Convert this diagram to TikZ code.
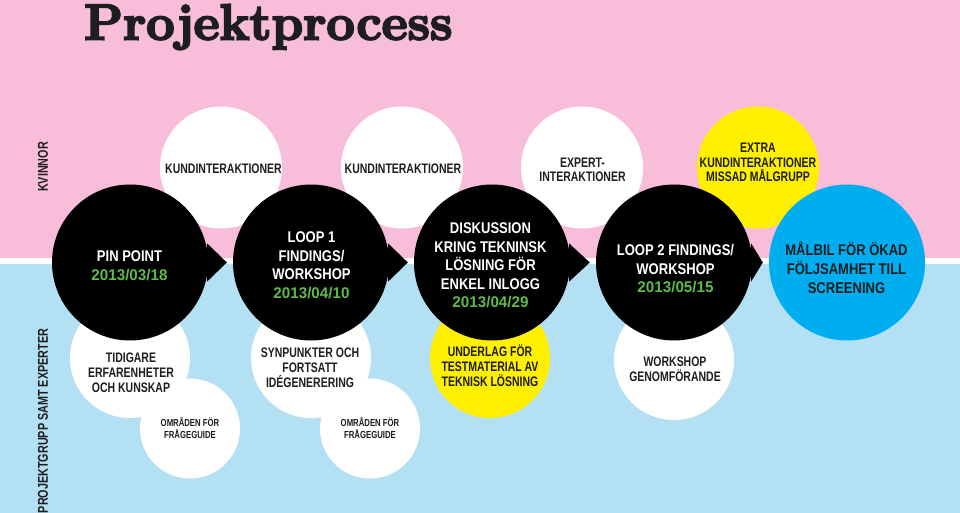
\documentclass[tikz,border=0pt]{standalone}
\usepackage{fontspec}
\newfontfamily\fw[FakeStretch=0.76]{Liberation Sans}
\newfontfamily\fb[FakeStretch=0.84]{Liberation Sans}
\newfontfamily\fd[FakeStretch=0.98]{Liberation Sans}
\newfontfamily\ttl[FakeBold=4]{Latin Modern Roman}
\definecolor{pinkbg}{RGB}{247,189,217}
\definecolor{bluebg}{RGB}{180,224,244}
\definecolor{cyanc}{RGB}{0,174,239}
\definecolor{yel}{RGB}{255,240,0}
\definecolor{grn}{RGB}{95,186,72}
\definecolor{ink}{RGB}{30,30,32}
\tikzset{
  disc/.style={circle, inner sep=0pt, draw=none, minimum size=#1},
  wdisc/.style={disc=#1, fill=white},
  bdisc/.style={disc=156pt, fill=black},
  wtxt/.style={align=center, inner sep=0pt, text=ink, font=\fw\bfseries\fontsize{13.8pt}{14.5pt}\selectfont},
  wtxtb/.style={align=center, inner sep=0pt, text=ink, font=\fw\bfseries\fontsize{13.8pt}{15pt}\selectfont},
  stxt/.style={align=center, inner sep=0pt, text=ink, font=\fw\bfseries\fontsize{10.2pt}{12pt}\selectfont},
  btxt/.style={align=center, inner sep=0pt, text=white, font=\fb\bfseries\fontsize{15.5pt}{18.5pt}\selectfont},
  ctxt/.style={align=center, inner sep=0pt, text=ink, font=\fb\bfseries\fontsize{15.5pt}{18.8pt}\selectfont},
  sidetxt/.style={inner sep=0pt, text=ink, rotate=90, font=\fw\bfseries\fontsize{14.2pt}{16pt}\selectfont},
  tri/.style={fill=black},
}
\newcommand{\dt}[1]{{\fd\bfseries\color{grn}#1}}
\begin{document}
\begin{tikzpicture}[x=1pt,y=-1pt]
\useasboundingbox (0,0) rectangle (960,513);
\fill[pinkbg] (0,0) rectangle (960,258);
\fill[white] (0,258) rectangle (960,264);
\fill[bluebg] (0,264) rectangle (960,513);

% title
\node[anchor=base west, inner sep=0pt, text=ink, font=\ttl\bfseries\fontsize{50.5pt}{52pt}\selectfont] (title) at (84,39.5) {Projektprocess};

% side labels
\node[sidetxt] (kv) at (43,167) {KVINNOR};
\node[sidetxt] (pg) at (43,421) {PROJEKTGRUPP SAMT EXPERTER};

% top circles
\node[wdisc=122pt] (k1) at (221,167.5) {};
\node[wdisc=122pt] (k2) at (402,167.5) {};
\node[wdisc=122pt] (ex) at (582,167.5) {};
\node[wdisc=122pt, fill=yel] (xk) at (758,167.5) {};

% bottom circles
\node[wdisc=120pt] (t1) at (130,358) {};
\node[wdisc=100pt] (o1) at (190,428.5) {};
\node[wdisc=120pt] (s1) at (311,358) {};
\node[wdisc=100pt] (o2) at (370,428.5) {};
\node[wdisc=120pt, fill=yel] (u1) at (490,358) {};
\node[wdisc=120pt] (w1) at (674,360) {};

% main circles
\node[bdisc] (p1) at (130,262.5) {};
\node[bdisc] (p2) at (311,262.5) {};
\node[bdisc] (p3) at (492,262.5) {};
\node[bdisc] (p4) at (674,262.5) {};
\node[bdisc, fill=cyanc] (p5) at (847,262.5) {};

% connectors (triangles)
\foreach \a/\b in {p1/p2,p2/p3,p3/p4,p4/p5}{
  \fill[tri] ([xshift=-1pt]\a.east) ++(0,-19) -- ++(0,38) -- ([xshift=-6pt]\b.west) -- cycle;
}

% texts
\node[wtxt] (k1t) at (223.5,169) {KUNDINTERAKTIONER};
\node[wtxt] (k2t) at (403,169) {KUNDINTERAKTIONER};
\node[wtxt] (ext) at (582.5,170) {EXPERT-\\INTERAKTIONER};
\node[wtxt] (xkt) at (758,162.5) {EXTRA\\KUNDINTERAKTIONER\\MISSAD MÅLGRUPP};

\node[btxt] (p1t) at (129.5,265.5) {PIN POINT\\\dt{2013/03/18}};
\node[btxt] (p2t) at (311.5,265) {LOOP 1\\FINDINGS/\\WORKSHOP\\\dt{2013/04/10}};
\node[btxt] (p3t) at (490.5,265.5) {DISKUSSION\\KRING TEKNINSK\\LÖSNING FÖR\\ENKEL INLOGG\\\dt{2013/04/29}};
\node[btxt] (p4t) at (675.5,269) {LOOP 2 FINDINGS/\\WORKSHOP\\\dt{2013/05/15}};
\node[ctxt] (p5t) at (846.5,268) {MÅLBIL FÖR ÖKAD\\FÖLJSAMHET TILL\\SCREENING};

\node[wtxtb] (t1t) at (131,373) {TIDIGARE\\ERFARENHETER\\OCH KUNSKAP};
\node[wtxtb] (s1t) at (310,367.5) {SYNPUNKTER OCH\\FORTSATT\\IDÉGENERERING};
\node[wtxtb] (u1t) at (490,366) {UNDERLAG FÖR\\TESTMATERIAL AV\\TEKNISK LÖSNING};
\node[wtxtb] (w1t) at (675,369.5) {WORKSHOP\\GENOMFÖRANDE};
\node[stxt] (o1t) at (190,428.5) {OMRÅDEN FÖR\\FRÅGEGUIDE};
\node[stxt] (o2t) at (370,428.5) {OMRÅDEN FÖR\\FRÅGEGUIDE};
\end{tikzpicture}
\end{document}
